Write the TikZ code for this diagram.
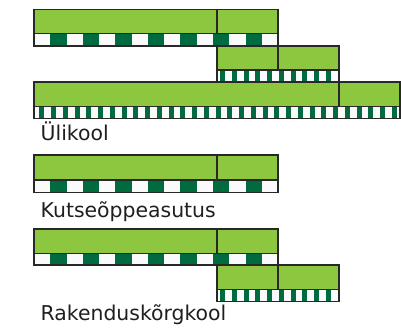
\documentclass[tikz,border=0pt]{standalone}
\usepackage{fontspec}
\setmainfont{DejaVu Sans}
\definecolor{barGreen}{RGB}{141,198,63}
\definecolor{darkStripe}{RGB}{0,107,62}
\definecolor{edgeGray}{RGB}{40,40,40}
\definecolor{paleWhite}{RGB}{250,250,250}
\tikzset{
  greenbox/.style={fill=barGreen, draw=edgeGray, line width=1.2pt},
  stripebox/.style={draw=edgeGray, line width=1.2pt},
  darkcell/.style={fill=darkStripe},
  divline/.style={draw=edgeGray, line width=1.2pt},
  grouplabel/.style={anchor=base west, inner sep=0pt, font=\fontsize{20.4}{24}\selectfont, text=black!88}
}
% square-pattern bar: x 34..278, divider at 217
\newcommand\sqbar[3]{%
  \fill[paleWhite] (34,#2) rectangle (278,#3);
  \foreach \k in {1,3,...,13}
    \fill[darkcell] ({34+16.27*\k},#2) rectangle ({34+16.27*(\k+1)},#3);
  \draw[stripebox] (34,#2) rectangle (278,#3);
  \draw[greenbox] (34,#1) rectangle (278,#2);
  \draw[divline] (217,#1) -- (217,#2);
}
% thin-stripe bar: {x1}{x2}{ytop}{ymid}{ybot}{divider}{first dark}{last index}
\newcommand\thinbar[8]{%
  \fill[paleWhite] (#1,#4) rectangle (#2,#5);
  \foreach \k in {0,...,#8}
    \fill[darkcell] ({#7+11.75*\k},#4) rectangle ({#7+11.75*\k+5},#5);
  \draw[stripebox] (#1,#4) rectangle (#2,#5);
  \draw[greenbox] (#1,#3) rectangle (#2,#4);
  \draw[divline] (#6,#3) -- (#6,#4);
}
\begin{document}
\begin{tikzpicture}[x=1pt,y=-1pt]
  \useasboundingbox (0,0) rectangle (401,334);
  % Ulikool
  \sqbar{9.5}{33.3}{46}
  \thinbar{217}{339}{46}{70}{82}{278}{220}{9}
  \thinbar{34}{400}{82}{106.7}{118.3}{339}{39.3}{30}
  \node[grouplabel] (uli) at (40.5,140.5) {Ülikool};
  % Kutseoppeasutus
  \sqbar{155}{180}{192.3}
  \node[grouplabel] (kutse) at (40.5,217.3) {Kutseõppeasutus};
  % Rakenduskorgkool
  \sqbar{229}{253.3}{265}
  \thinbar{217}{339}{265}{289.3}{301.7}{278}{220}{9}
  \node[grouplabel] (rak) at (40.5,320) {Rakenduskõrgkool};
\end{tikzpicture}
\end{document}
